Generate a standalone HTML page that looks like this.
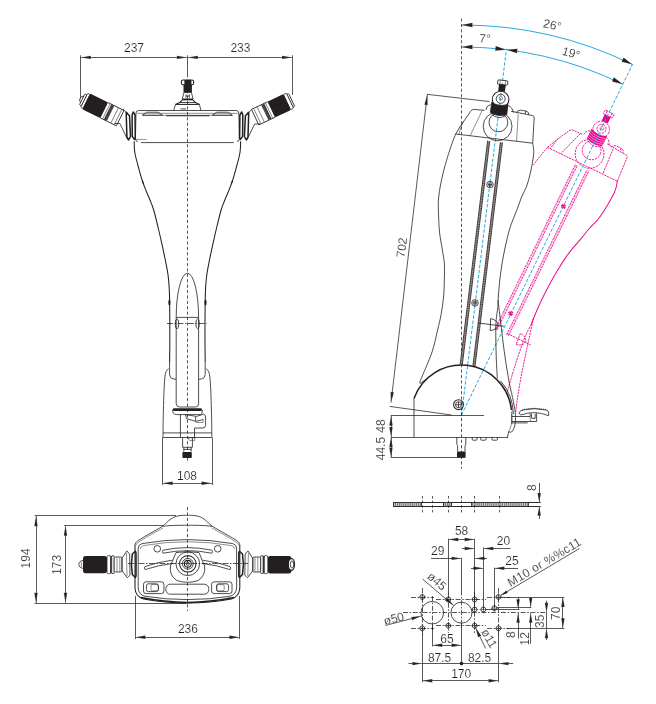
<!DOCTYPE html>
<html><head><meta charset="utf-8"><title>Dimensions</title>
<style>
html,body{margin:0;padding:0;background:#fff}
body{width:656px;height:704px;overflow:hidden}
svg{display:block;will-change:transform}
text{font-family:"Liberation Sans",sans-serif;font-size:12px;fill:#231f20;stroke:#fff;stroke-width:.16px;paint-order:fill stroke}
.d{stroke:#231f20;stroke-width:.75;fill:none}
.t{stroke:#231f20;stroke-width:.5;fill:none}
.o{stroke:#231f20;stroke-width:.8;fill:none}
.b{stroke:#231f20;stroke-width:1.05;fill:none}
.k{stroke:#231f20;stroke-width:1.5;fill:none}
.ar{fill:#231f20;stroke:#fff;stroke-width:.16px;paint-order:fill stroke}
.bl{stroke:#27a9e1;stroke-width:1;fill:none}
.w{fill:#fff}
.mg .o,.mg .t,.mg .b{stroke:#ec008c;stroke-dasharray:2.2 .8;stroke-width:.8}
</style></head><body>
<svg width="656" height="704" viewBox="0 0 656 704">
<rect width="656" height="704" fill="#fff"/>
<!-- front -->
<line class="d" x1="80.4" y1="57.5" x2="292.5" y2="57.5"/>
<line class="d" x1="80.5" y1="55.3" x2="80.5" y2="98.5"/>
<line class="d" x1="292.5" y1="55.3" x2="292.5" y2="95"/>
<line class="d" x1="187.5" y1="55.3" x2="187.5" y2="74"/>
<polygon class="ar" points="80.4,57.4 90.9,55.7 90.9,59.1"/>
<polygon class="ar" points="187.4,57.4 176.9,59.1 176.9,55.7"/>
<polygon class="ar" points="187.4,57.4 197.9,55.7 197.9,59.1"/>
<polygon class="ar" points="292.5,57.4 282,59.1 282,55.7"/>
<text x="134" y="52" text-anchor="middle">237</text>
<text x="240.4" y="52" text-anchor="middle">233</text>
<line class="d" x1="187.5" y1="74" x2="187.5" y2="463" stroke-dasharray='3.2 2.2'/>
<path class="o" d="M138.5 110.5H236.3Q238.6 110.5 238.8 113L239.4 139Q239.4 141.3 237 141.4M138.5 110.5Q136.2 110.5 136 113L135.4 139Q135.4 141.3 137.8 141.4"/>
<path class="t" d="M137 113.3H237.8"/>
<path class="o" d="M141 142.6H233.8"/>
<path class="t" d="M135.6 139.4H146.5"/>
<path class="o" d="M142.4 115.2L146.6 112.2H158L162.6 115.2M232.4 115.2L228.2 112.2H216.8L212.2 115.2"/>
<path class="b" d="M142.4 115.3H162.6M212.2 115.3H232.4"/>
<path class="t" d="M162.6 115.3H212.2"/>
<path class="b" d="M166.3 115.8H209.5"/>
<path class="b" d="M134.2 141.2C134.25 142.67 134.28 147.53 134.5 150C134.72 152.47 134.9 153.33 135.5 156C136.1 158.67 136.95 161.83 138.1 166C139.25 170.17 140.98 176.67 142.4 181C143.82 185.33 145.33 188.83 146.6 192C147.87 195.17 148.82 197 150 200C151.18 203 152.37 205.5 153.7 210C155.03 214.5 156.68 221.55 158 227C159.32 232.45 160.38 237.2 161.6 242.7C162.82 248.2 164.23 254.67 165.3 260C166.37 265.33 167.35 270.03 168 274.7C168.65 279.37 168.93 283.78 169.2 288C169.47 292.22 169.5 294.67 169.6 300C169.7 305.33 169.77 312.5 169.8 320C169.83 327.5 169.83 338 169.8 345C169.77 352 169.63 359.17 169.6 362"/>
<path class="b" d="M240.6 141.2C240.55 142.67 240.52 147.53 240.3 150C240.08 152.47 239.9 153.33 239.3 156C238.7 158.67 237.85 161.83 236.7 166C235.55 170.17 233.82 176.67 232.4 181C230.98 185.33 229.47 188.83 228.2 192C226.93 195.17 225.98 197 224.8 200C223.62 203 222.43 205.5 221.1 210C219.77 214.5 218.12 221.55 216.8 227C215.48 232.45 214.42 237.2 213.2 242.7C211.98 248.2 210.57 254.67 209.5 260C208.43 265.33 207.45 270.03 206.8 274.7C206.15 279.37 205.87 283.78 205.6 288C205.33 292.22 205.3 294.67 205.2 300C205.1 305.33 205.03 312.5 205 320C204.97 327.5 204.97 338 205 345C205.03 352 205.17 359.17 205.2 362"/>
<path class="b" d="M142.2 180.5l1.3 3.2" stroke-width='1.6'/>
<path class="b" d="M232.6 180.5l-1.3 3.2" stroke-width='1.6'/>
<ellipse cx="169.4" cy="302.5" rx="1.1" ry="3" fill="#231f20"/>
<ellipse cx="205.5" cy="302.5" rx="1.1" ry="3" fill="#231f20"/>
<path class="o" d="M169.6 362V374.6Q169.8 378.6 173.6 379L176.2 379.3M205.2 362V374.6Q205 378.6 201.2 379L198.6 379.3"/>
<path class="o" d="M176.2 317.4V404Q176.4 406.8 179.4 407H195.4Q198.4 406.8 198.6 404V317.4A11.2 44.2 0 0 0 176.2 317.4"/>
<path class="o" d="M176.2 317.4H198.6"/>
<line class="d" x1="167" y1="323.5" x2="206.6" y2="323.5" stroke-dasharray='6 1.5 1.5 1.5'/>
<ellipse cx="177" cy="323.8" rx="1.7" ry="5" class="o" fill="#fff"/><ellipse cx="197.6" cy="323.8" rx="1.7" ry="5" class="o" fill="#fff"/>
<path class="o" d="M168.8 368.8C168.43 369.12 167.23 369.43 166.6 370.7C165.97 371.97 165.43 373.02 165 376.4C164.57 379.78 164.27 385.4 164 391C163.73 396.6 163.55 404.33 163.4 410C163.25 415.67 163.17 420.42 163.1 425C163.03 429.58 163.02 435.42 163 437.5"/>
<path class="o" d="M206 368.8C206.37 369.12 207.57 369.43 208.2 370.7C208.83 371.97 209.37 373.02 209.8 376.4C210.23 379.78 210.53 385.4 210.8 391C211.07 396.6 211.25 404.33 211.4 410C211.55 415.67 211.63 420.42 211.7 425C211.77 429.58 211.78 435.42 211.8 437.5"/>
<path class="o" d="M163 432.9H211.8" stroke='#6b6869' stroke-width='1.1'/>
<path class="o" d="M163 437.5H211.8"/>
<rect x="172.8" y="408.2" width="29.2" height="2.9" rx="1.4" fill="#231f20"/>
<path class="o" d="M172.6 409.6Q172.2 414.4 176.5 414.6H200.6Q202.6 414 202.4 410"/>
<path class="o" d="M185.4 414.6L196.5 416.4L203.5 414.2Q205.6 414.8 205.6 417V425.6Q205.4 427.8 203 428H194.6"/>
<path class="o" d="M185.4 414.6L186.6 418.6L195.6 421.4L203.2 419.6M195.6 421.4V416.6"/>
<path class="t" d="M203.2 419.6V422.5H196"/>
<path class="o" d="M180.4 414.6V437.5M194.5 428V437.5"/>
<path class="o" d="M182.6 437.5V447.3H192.4V437.5M183.8 447.3V451.6M191.2 447.3V451.6M183.8 449.4H191.2"/>
<path class="t" d="M188.2 437.7h6.6v2.7h-5.4z"/>
<rect x="182.4" y="452" width="9.4" height="6" rx="1" fill="#231f20"/>
<line class="d" x1="162.5" y1="437.5" x2="162.5" y2="485"/>
<line class="d" x1="212.5" y1="437.5" x2="212.5" y2="485"/>
<line class="d" x1="162.2" y1="483.5" x2="212" y2="483.5"/>
<polygon class="ar" points="162.2,483.3 172.7,481.6 172.7,485"/>
<polygon class="ar" points="212,483.3 201.5,485 201.5,481.6"/>
<text x="187" y="480" text-anchor="middle">108</text>
<!-- conn -->
<g transform="translate(86.3 101.4) rotate(26.3)"><path class="o" d="M-4.3 -3.6Q-6.9 -3 -6.9 0Q-6.9 3 -4.3 3.6"/>
<rect x="-4.6" y="-6.2" width="2.4" height="12.4" rx="1" class="w o"/>
<rect x="-2.4" y="-7.9" width="2.6" height="15.8" rx="1" class="w o" stroke-width="1.1"/>
<rect x="0" y="-8.8" width="20" height="17.6" rx="1" fill="#231f20"/>
<path class="o" d="M20 -8.6H37.8M20 8.6H37.8"/>
<path class="t" d="M22.4 -8.4V8.4M31.6 -8.2V8.2M35.4 -8.2V8.2"/>
<path class="o" d="M37.8 -8.4V8.4"/>
<rect x="24.2" y="-8.5" width="2.9" height="17" fill="#4a4647"/>
<path class="o" d="M24.2 -8.5V8.5"/></g>
<path class="o" d="M123 109L125.4 111.6L127.6 112.6M114.6 123.5L119.9 123.5L127.6 139.6"/>
<path class="k" d="M126.2 112.4 L129.5 115.8 L130.5 136.5 L128.6 140 L126.9 136.8Z" stroke-width='2.3' stroke-linejoin='round' fill='#fff'/>
<path class="k" d="M133.2 112 L135 114.8 L135.3 138 L134.4 139.4 L132.3 136.4 L132.1 115Z" stroke-width='2.2' stroke-linejoin='round' fill='#fff'/>
<g transform="translate(289.3 101) scale(-1 1) rotate(25.3)"><rect x="-2.6" y="-7.2" width="2.2" height="14.4" rx="1" class="w o" stroke-width="1.1"/>
<rect x="-0.8" y="-8.3" width="3.4" height="16.6" rx="1" class="w o" stroke-width="1.1"/>
<rect x="2.4" y="-8.8" width="17.6" height="17.6" rx="1" fill="#231f20"/>
<path class="o" d="M20 -8.6H37.8M20 8.6H37.8"/>
<path class="t" d="M22.4 -8.4V8.4M31.6 -8.2V8.2M35.4 -8.2V8.2"/>
<path class="o" d="M37.8 -8.4V8.4"/>
<rect x="24.2" y="-8.5" width="2.9" height="17" fill="#4a4647"/>
<path class="o" d="M24.2 -8.5V8.5"/></g>
<path class="o" d="M251.5 109.5L249.2 112L247 113M260.2 124L254.6 124L247 139.8"/>
<path class="k" d="M248.7 112.4 L245.4 115.8 L244.4 136.5 L246.3 140 L248 136.8Z" stroke-width='2.3' stroke-linejoin='round' fill='#fff'/>
<path class="k" d="M241.7 112 L239.9 114.8 L239.6 138 L240.5 139.4 L242.6 136.4 L242.8 115Z" stroke-width='2.2' stroke-linejoin='round' fill='#fff'/>
<rect x="181.4" y="80" width="12.2" height="4.8" rx="1.6" class="w b"/>
<rect x="184.4" y="80" width="7" height="4.8" fill="#231f20"/>
<path class="o" d="M186.4 82.2h3" stroke='#fff' stroke-width='.8'/>
<rect x="183.5" y="84.7" width="8.4" height="7.7" fill="#231f20"/>
<path class="o" d="M184 92.4H191.4L193.1 99H182.2Z" fill='#fff' stroke-width='1'/>
<path class="o" d="M186 94.4V97.6M189.4 94.4V97.6M186 96H189.4"/>
<path class="k" d="M182.2 99.6H193.1" stroke-width='1.4'/>
<path class="b" d="M182.2 100.2L179.7 102.5L175.5 104.4M193.1 100.2L195.4 102.5L199.4 104.4" stroke-width='1.3'/>
<path class="o" d="M179.7 102.5H195.4"/>
<path class="b" d="M175.5 104.4H199.4"/>
<path class="o" d="M175.5 104.4L173.8 110.2M199.4 104.4L200.9 110.2"/>
<path class="o" d="M180.5 108.9H186"/>
<!-- top -->
<line class="d" x1="34.6" y1="515.5" x2="176" y2="515.5"/>
<line class="d" x1="34.6" y1="603.5" x2="186" y2="603.5"/>
<line class="d" x1="36.5" y1="515.7" x2="36.5" y2="603.2"/>
<polygon class="ar" points="36,515.7 37.7,526.2 34.3,526.2"/>
<polygon class="ar" points="36,603.2 34.3,592.7 37.7,592.7"/>
<line class="d" x1="64.2" y1="525.5" x2="163" y2="525.5"/>
<line class="d" x1="65.5" y1="525.3" x2="65.5" y2="603.2"/>
<polygon class="ar" points="65.5,525.3 67.2,535.8 63.8,535.8"/>
<polygon class="ar" points="65.5,603.2 63.8,592.7 67.2,592.7"/>
<text x="30.2" y="558.4" text-anchor="middle" transform="rotate(-90 30.2 558.4)">194</text>
<text x="60.8" y="564.8" text-anchor="middle" transform="rotate(-90 60.8 564.8)">173</text>
<line class="d" x1="135.5" y1="596" x2="135.5" y2="639"/>
<line class="d" x1="239.5" y1="596" x2="239.5" y2="639"/>
<line class="d" x1="135" y1="637.5" x2="239.8" y2="637.5"/>
<polygon class="ar" points="135,637.2 145.5,635.5 145.5,638.9"/>
<polygon class="ar" points="239.8,637.2 229.3,638.9 229.3,635.5"/>
<text x="187.9" y="632.6" text-anchor="middle">236</text>
<line class="d" x1="187.5" y1="507" x2="187.5" y2="611" stroke-dasharray='3.2 2.2'/>
<line class="d" x1="128" y1="563.5" x2="248" y2="563.5" stroke-dasharray='6 1.5 1.5 1.5'/>
<path class="o" d="M135 545C135.17 544.57 135.17 543.33 136 542.4C136.83 541.47 137.67 540.88 140 539.4C142.33 537.92 146.25 535.7 150 533.5C153.75 531.3 159.17 528.52 162.5 526.2C165.83 523.88 167.75 521.23 170 519.6C172.25 517.97 174 517.1 176 516.4C178 515.7 180.1 515.58 182 515.4C183.9 515.22 186.5 515.32 187.4 515.3C188.3 515.32 190.9 515.22 192.8 515.4C194.7 515.58 196.8 515.7 198.8 516.4C200.8 517.1 202.55 517.97 204.8 519.6C207.05 521.23 208.97 523.88 212.3 526.2C215.63 528.52 221.05 531.3 224.8 533.5C228.55 535.7 232.47 537.92 234.8 539.4C237.13 540.88 237.97 541.47 238.8 542.4C239.63 543.33 239.63 544.57 239.8 545"/>
<path class="o" d="M162.5 526.4C163.75 526.27 167.08 525.78 170 525.6C172.92 525.42 177.1 525.35 180 525.3C182.9 525.25 186.17 525.3 187.4 525.3C188.63 525.3 191.9 525.25 194.8 525.3C197.7 525.35 201.88 525.42 204.8 525.6C207.72 525.78 211.05 526.27 212.3 526.4"/>
<path class="b" d="M135 545V588Q135.4 596.4 143.5 599Q165 603 187.4 603Q210 603 231.3 599Q239.4 596.4 239.8 588V545"/>
<path class="k" d="M141 597.6Q165 602.4 187.4 602.4Q210 602.4 233.8 597.6" stroke-width='1.7'/>
<path class="t" d="M136.4 545C136.67 544.6 135.73 544.23 138 542.6C140.27 540.97 145.83 537.63 150 535.2C154.17 532.77 160.83 529.2 163 528"/>
<path class="t" d="M238.4 545C238.13 544.6 239.07 544.23 236.8 542.6C234.53 540.97 228.97 537.63 224.8 535.2C220.63 532.77 213.97 529.2 211.8 528"/>
<path class="o" d="M138.2 548Q138.6 544.6 142 543.6Q165 539.6 187.4 539.6Q210 539.6 232.8 543.6Q236.2 544.6 236.6 548V588Q236.2 594.6 230 596.2Q210 599.6 187.4 599.6Q165 599.6 144.8 596.2Q138.6 594.6 138.2 588Z"/>
<path class="t" d="M140.2 549Q140.6 546.4 143.4 545.6Q165 541.8 187.4 541.8Q210 541.8 231.4 545.6Q234.2 546.4 234.6 549"/>
<circle cx="157.3" cy="548.8" r="3.3" class="o"/><circle cx="217.7" cy="548.8" r="3.3" class="o"/>
<path class="o" d="M163 550.2Q187.4 545 211.8 550.2Q213.2 551.8 211.8 553.2Q187.4 548.2 163 553.2Q161.6 551.8 163 550.2Z"/>
<path class="o" d="M176 552.6Q187.4 550.6 199 552.6L204.6 566Q205.8 576 198 580.6Q187.4 584 177 580.6Q169.2 576 170.4 566Z"/>
<circle cx="187.8" cy="563.8" r="11.8" class="o"/>
<circle cx="187.8" cy="563.8" r="8.2" class="b"/>
<circle cx="187.8" cy="563.8" r="5.4" class="o"/>
<circle cx="187.8" cy="563.8" r="3.4" class="b"/>
<circle cx="187.8" cy="563.8" r="1.6" class="o"/>
<path class="o" d="M172.4 560.2Q156 562.4 145 566.6Q143.4 568 145 569.6Q158 565.2 173 563.4"/>
<path class="o" d="M202.8 560.2Q219 562.4 230 566.6Q231.6 568 230 569.6Q217 565.2 202.2 563.4"/>
<rect x="143.5" y="581.8" width="20.4" height="11.8" rx="2.5" class="o"/>
<rect x="146.4" y="583.8" width="12" height="7.8" rx="2" class="o"/>
<rect x="151" y="584.6" width="7.4" height="6.2" rx="1.5" class="t"/>
<rect x="211.6" y="581.8" width="20.4" height="11.8" rx="2.5" class="o"/>
<rect x="216.6" y="583.8" width="12" height="7.8" rx="2" class="o"/>
<rect x="216.8" y="584.6" width="7.4" height="6.2" rx="1.5" class="t"/>
<rect x="165.8" y="584.2" width="43" height="10" rx="4.6" class="o"/>
<path class="o" d="M84 560.3Q79 560.6 78.8 564.5 Q79 568 84 568.5" fill='#fff' stroke-width='1'/>
<path class="t" d="M81.4 561.8V567"/>
<rect x="83" y="556" width="24" height="17.2" rx="2.6" fill="#231f20"/>
<path class="o" d="M88.8 557.4Q87.6 564.5 88.8 571.8" stroke='#d9d9d9' stroke-width='1'/>
<rect x="107" y="555.6" width="3.6" height="18.1" rx="1.4" class="w o"/>
<rect x="110.5" y="555.8" width="1.2" height="17.7" fill="#231f20"/>
<rect x="111.7" y="555.6" width="2.5" height="18.1" rx="1.2" class="w o"/>
<rect x="114.2" y="557" width="7.8" height="15" rx="1.4" class="w o"/>
<path class="t" d="M117 557.4V571.6M119.8 557.4V571.6"/>
<path class="o" d="M122 558.4 L126.8 550.9 L129.6 554 L130 575.1 L127.4 577.8 L122 570.8Z" fill='#cfcdce' stroke-width='1.1' stroke-linejoin='round'/>
<path class="t" d="M126.4 553 L127 576"/>
<path class="k" d="M132.3 554 L135.4 551.2 L136 553 L136 576 L135.4 577.6 L132.3 574.4 L131.4 564.5Z" stroke-width='1.5' stroke-linejoin='round' fill='#fff'/>
<rect x="267.8" y="556" width="23.6" height="17.4" rx="2.6" fill="#231f20"/>
<path class="o" d="M284.8 557.2V572.2M287 557.6V571.6" stroke='#e6e6e6' stroke-width='.9'/>
<ellipse cx="291.4" cy="564.5" rx="3.1" ry="5.8" fill="#fff" stroke="#231f20" stroke-width="1.2"/>
<ellipse cx="292" cy="564.5" rx="1.7" ry="3.6" class="o"/>
<rect x="264.2" y="555.6" width="3.6" height="18.1" rx="1.4" class="w o"/>
<rect x="263.1" y="555.8" width="1.2" height="17.7" fill="#231f20"/>
<rect x="260.6" y="555.6" width="2.5" height="18.1" rx="1.2" class="w o"/>
<rect x="252.8" y="557" width="7.8" height="15" rx="1.4" class="w o"/>
<path class="t" d="M257.8 557.4V571.6M255 557.4V571.6"/>
<path class="o" d="M252.8 558.4 L248 550.9 L245.2 554 L244.8 575.1 L247.4 577.8 L252.8 570.8Z" fill='#cfcdce' stroke-width='1.1' stroke-linejoin='round'/>
<path class="t" d="M248.4 553 L247.8 576"/>
<path class="k" d="M242.5 554 L239.4 551.2 L238.8 553 L238.8 576 L239.4 577.6 L242.5 574.4 L243.4 564.5Z" stroke-width='1.5' stroke-linejoin='round' fill='#fff'/>
<!-- side -->
<g transform="rotate(19 461.5 415)" class="mg" color="#ec008c"><path class="o" d="M455.7 134L460.2 126.4L470.6 111.4Q471.6 109.6 473.6 109.4L484.6 110.3M511 111.2L532.6 115.6Q534.4 116 534.2 118L532.7 143.2"/>
<path class="o" d="M455.7 134L532.7 143.2"/>
<path class="t" d="M482.3 110.2L470.2 135.7M518.2 113.9L516.6 141.2"/>
<path class="t" d="M463 121.8L458.6 134.4"/>
<path class="o" d="M516.4 113.2Q516.8 110.2 520.4 110.2L526 111Q529 111.8 528.8 114.6M525.6 111L525.2 114"/>
<circle cx="497.6" cy="126.4" r="14.4" class="o" fill="none"/>
<circle cx="498.4" cy="122.4" r="9.4" class="o"/>
<path class="o" d="M490.6 104.6Q486.4 105.4 486 109.8M508.2 105.6Q512.4 107 513.4 112.6"/>
<circle cx="500.6" cy="99.6" r="8.3" class="b" fill="none"/>
<circle cx="500.7" cy="98.8" r="4.5" class="o"/>
<circle cx="500.9" cy="98.2" r="1.7" class="t"/>
<g transform="rotate(7 499.2 108.4)"><path d="M491 103.4Q499.2 107.2 507.4 103.4V113.6Q499.2 117.2 491 113.6Z" fill="currentColor" stroke="currentColor" stroke-width=".8"/><path d="M491 105.6Q499.2 109 507.4 105.6" stroke="#fff" stroke-width=".5" fill="none"/><path d="M491 107.8Q499.2 111.2 507.4 107.8" stroke="#fff" stroke-width=".5" fill="none"/><path d="M491 110Q499.2 113.4 507.4 110" stroke="#fff" stroke-width=".5" fill="none"/><path d="M491 112.2Q499.2 115.6 507.4 112.2" stroke="#fff" stroke-width=".5" fill="none"/><path d="M492.6 115.4Q499.2 119.6 505.8 115.4" class="o"/></g>
<g transform="rotate(7 502.2 86)"><rect x="498.8" y="84.6" width="6.8" height="6.8" fill="currentColor"/><rect x="497.2" y="80.3" width="10.2" height="4.3" rx="1" class="o" fill="none"/><path d="M499.6 80.3v4.3M505 80.3v4.3" class="t"/></g>
<line class="o" x1="465.27" y1="322.77" x2="487.63" y2="140.64"/>
<line class="o" x1="467.45" y1="323.04" x2="489.81" y2="140.91"/>
<line x1="466.36" y1="322.91" x2="488.72" y2="140.77" stroke="#f27ac0" stroke-width="1.7" stroke-dasharray=".6 1"/>
<line class="o" x1="477.97" y1="324.33" x2="500.34" y2="142.2"/>
<line class="o" x1="480.16" y1="324.6" x2="502.52" y2="142.47"/>
<line x1="479.06" y1="324.47" x2="501.43" y2="142.33" stroke="#f27ac0" stroke-width="1.7" stroke-dasharray=".6 1"/>
<path class="o" d="M488.2 182.8l3.6 3.6M488.2 186.4l3.6 -3.6M487.4 184.6h5.2M490 182v5.2" style='stroke-dasharray:none;stroke-width:1'/>
<path class="o" d="M473.2 301.1l3.6 3.6M473.2 304.7l3.6 -3.6M472.4 302.9h5.2M475 300.3v5.2" style='stroke-dasharray:none;stroke-width:1'/>
<path class="o" d="M478.5 323L504 326.3"/>
<path class="o" d="M490.6 318.6L490.2 330.6Q498.4 329.6 498 324.4Q497.6 320.2 490.6 318.6Z" fill='none'/>
<path class="o" d="M455.7 134C455.08 135.58 453.28 139.93 452 143.5C450.72 147.07 448.67 153.42 448 155.4"/>
<path class="o" d="M532.7 143.2C532.87 144.33 533.6 147.7 533.7 150C533.8 152.3 533.75 153.67 533.3 157C532.85 160.33 532.05 165.3 531 170C529.95 174.7 528.57 180.7 527 185.2C525.43 189.7 523.2 193.08 521.6 197C520 200.92 518.93 204.7 517.4 208.7C515.87 212.7 513.83 217.12 512.4 221C510.97 224.88 510.03 227.5 508.8 232C507.57 236.5 506.13 242.67 505 248C503.87 253.33 502.87 258.67 502 264C501.13 269.33 500.4 274.67 499.8 280C499.2 285.33 498.72 291.55 498.4 296C498.08 300.45 497.98 304.92 497.9 306.7" style='stroke-dasharray:none;stroke-width:.95'/>
<path class="o" d="M497.9 306.7C497.62 308.92 496.55 315.62 496.2 320C495.85 324.38 495.8 327 495.8 333C495.8 339 495.95 348.42 496.2 356C496.45 363.58 497.12 374.75 497.3 378.5"/>
<path class="o" d="M498 300C498.4 303.33 499.5 312.5 500.4 320C501.3 327.5 502.4 337.33 503.4 345C504.4 352.67 505.38 359.53 506.4 366C507.42 372.47 508.57 378.97 509.5 383.8C510.43 388.63 511.58 393.13 512 395"/></g>
<path class="bl" d="M461.5 25A390 390 0 0 1 632.46 64.47"/>
<path class="bl" d="M461.5 47A368 368 0 0 1 622.82 84.24"/>
<polygon class="ar" points="461.5,25 472.5,22.7 472.5,27.3"/>
<polygon class="ar" points="632.46,64.47 621.57,61.72 623.59,57.58"/>
<polygon class="ar" points="461.5,47 472.5,44.7 472.5,49.3"/>
<polygon class="ar" points="506.35,49.74 495.15,50.69 495.71,46.12"/>
<polygon class="ar" points="506.35,49.74 517.55,48.8 516.99,53.37"/>
<polygon class="ar" points="622.82,84.24 611.93,81.49 613.94,77.35"/>
<line class="bl" x1="461.5" y1="415" x2="506.47" y2="48.75" stroke-dasharray='3.4 1.7' stroke-width='.9'/>
<line class="bl" x1="461.5" y1="415" x2="632.68" y2="64.02" stroke-dasharray='3.4 1.7' stroke-width='.9'/>
<text x="551.5" y="29" text-anchor="middle" transform="rotate(12 551.5 29)">26°</text>
<text x="484.8" y="42.6" text-anchor="middle" transform="rotate(3 484.8 42.6)">7°</text>
<text x="570" y="57" text-anchor="middle" transform="rotate(16 570 57)">19°</text>
<line class="d" x1="461.5" y1="18.5" x2="461.5" y2="468.7" stroke-dasharray='3.2 2.2'/>
<line class="d" x1="391" y1="402.6" x2="427.3" y2="94.5"/>
<polygon class="ar" points="427.3,94.5 427.76,105.13 424.38,104.73"/>
<polygon class="ar" points="391,402.6 390.54,391.97 393.92,392.37"/>
<line class="d" x1="427" y1="94.3" x2="489.6" y2="101.6"/>
<line class="d" x1="389.6" y1="406.4" x2="451.5" y2="415"/>
<text x="405.8" y="248" text-anchor="middle" transform="rotate(-83.2 405.8 248)">702</text>
<g color="#231f20"><path class="o" d="M455.7 134L460.2 126.4L470.6 111.4Q471.6 109.6 473.6 109.4L484.6 110.3M511 111.2L532.6 115.6Q534.4 116 534.2 118L532.7 143.2"/>
<path class="o" d="M455.7 134L532.7 143.2"/>
<path class="t" d="M482.3 110.2L470.2 135.7M518.2 113.9L516.6 141.2"/>
<path class="t" d="M463 121.8L458.6 134.4"/>
<path class="o" d="M516.4 113.2Q516.8 110.2 520.4 110.2L526 111Q529 111.8 528.8 114.6M525.6 111L525.2 114"/>
<circle cx="497.6" cy="126.4" r="14.4" class="o" fill="#fff"/>
<circle cx="498.4" cy="122.4" r="9.4" class="o"/>
<path class="o" d="M490.6 104.6Q486.4 105.4 486 109.8M508.2 105.6Q512.4 107 513.4 112.6"/>
<circle cx="500.6" cy="99.6" r="8.3" class="b" fill="#fff"/>
<circle cx="500.7" cy="98.8" r="4.5" class="o"/>
<circle cx="500.9" cy="98.2" r="1.7" class="t"/>
<g transform="rotate(7 499.2 108.4)"><path d="M491 103.4Q499.2 107.2 507.4 103.4V113.6Q499.2 117.2 491 113.6Z" fill="currentColor" stroke="currentColor" stroke-width=".8"/><path d="M492.6 115.4Q499.2 119.6 505.8 115.4" class="o"/></g>
<g transform="rotate(7 502.2 86)"><rect x="498.8" y="84.6" width="6.8" height="6.8" fill="currentColor"/><rect x="497.2" y="80.3" width="10.2" height="4.3" rx="1" class="o" fill="#fff"/><path d="M499.6 80.3v4.3M505 80.3v4.3" class="t"/></g>
<line x1="461.29" y1="364.2" x2="488.72" y2="140.77" stroke="#b3b1b2" stroke-width="2"/>
<line x1="461.29" y1="364.2" x2="488.72" y2="140.77" stroke="#55524f" stroke-width="2" stroke-dasharray=".8 1"/>
<line class="o" x1="460.2" y1="364.06" x2="487.63" y2="140.64"/>
<line class="o" x1="462.38" y1="364.33" x2="489.81" y2="140.91"/>
<line x1="473.99" y1="365.76" x2="501.43" y2="142.33" stroke="#b3b1b2" stroke-width="2"/>
<line x1="473.99" y1="365.76" x2="501.43" y2="142.33" stroke="#55524f" stroke-width="2" stroke-dasharray=".8 1"/>
<line class="o" x1="472.9" y1="365.62" x2="500.34" y2="142.2"/>
<line class="o" x1="475.09" y1="365.89" x2="502.52" y2="142.47"/>
<circle cx="490" cy="184.6" r="3.3" class="o" fill="#fff"/>
<circle cx="490" cy="184.6" r="1.9" class="t"/>
<path class="o" d="M487.8 184.6h4.4M490 182.4v4.4"/>
<circle cx="475" cy="302.9" r="3.3" class="o" fill="#fff"/>
<circle cx="475" cy="302.9" r="1.9" class="t"/>
<path class="o" d="M472.8 302.9h4.4M475 300.7v4.4"/>
<path class="o" d="M478.5 323L504 326.3"/>
<path class="o" d="M490.6 318.6L490.2 330.6Q498.4 329.6 498 324.4Q497.6 320.2 490.6 318.6Z" fill='#fff'/>
<path class="o" d="M455.7 134C455.08 135.58 453.28 139.93 452 143.5C450.72 147.07 448.67 153.42 448 155.4"/>
<path class="o" d="M448 155.4C447.27 158 444.85 166.07 443.6 171C442.35 175.93 441.33 180.5 440.5 185C439.67 189.5 438.95 193.83 438.6 198C438.25 202.17 438.25 204.33 438.4 210C438.55 215.67 438.83 225.33 439.5 232C440.17 238.67 441.58 244.67 442.4 250C443.22 255.33 444.08 259 444.4 264C444.72 269 444.42 274.67 444.3 280C444.18 285.33 444.22 290.33 443.7 296C443.18 301.67 442.22 308.33 441.2 314C440.18 319.67 439.08 323.78 437.6 330C436.12 336.22 434.62 344.18 432.3 351.3C429.98 358.42 425.72 367.75 423.7 372.7C421.68 377.65 420.78 379.62 420.2 381"/>
<path class="o" d="M420.2 381Q418.8 384.6 421.4 382.6Q423.6 380.4 426.2 379.4"/>
<path class="o" d="M532.7 143.2C532.87 144.33 533.6 147.7 533.7 150C533.8 152.3 533.75 153.67 533.3 157C532.85 160.33 532.05 165.3 531 170C529.95 174.7 528.57 180.7 527 185.2C525.43 189.7 523.2 193.08 521.6 197C520 200.92 518.93 204.7 517.4 208.7C515.87 212.7 513.83 217.12 512.4 221C510.97 224.88 510.03 227.5 508.8 232C507.57 236.5 506.13 242.67 505 248C503.87 253.33 502.87 258.67 502 264C501.13 269.33 500.4 274.67 499.8 280C499.2 285.33 498.72 291.55 498.4 296C498.08 300.45 497.98 304.92 497.9 306.7"/>
<path class="o" d="M497.9 306.7C497.62 308.92 496.55 315.62 496.2 320C495.85 324.38 495.8 327 495.8 333C495.8 339 495.95 348.42 496.2 356C496.45 363.58 497.12 374.75 497.3 378.5"/>
<path class="o" d="M498 300C498.4 303.33 499.5 312.5 500.4 320C501.3 327.5 502.4 337.33 503.4 345C504.4 352.67 505.38 359.53 506.4 366C507.42 372.47 508.57 378.97 509.5 383.8C510.43 388.63 511.3 391.8 512 395C512.7 398.2 513.42 401.67 513.7 403"/></g>
<line class="d" x1="390.7" y1="415.5" x2="484" y2="415.5"/>
<path class="k" d="M414 398.4A50.3 50.3 0 0 1 511.4 410" stroke-width='1.3'/>
<path class="o" d="M499.4 381.6A50.8 50.8 0 0 1 512.2 414.6" stroke-width='2.4' stroke='#6d6a6b' stroke-dasharray='0.9 0.9'/>
<path class="o" d="M500.6 380.8A52 52 0 0 1 513.4 414"/>
<path class="o" d="M414 398.4V437"/>
<line class="d" x1="390.7" y1="437.5" x2="508" y2="437.5"/>
<path class="o" d="M513.7 403Q515.4 410 515.6 417.9Q515.4 423 514.7 426.1Q513.6 430.4 511.5 432Q509.8 432.6 508.7 431.6L507.4 437.5"/>
<path class="t" d="M511.6 412L511.4 424Q510.6 429 508.7 431.6"/>
<circle cx="458.5" cy="404.7" r="4.9" class="b" fill="#fff"/><circle cx="458.5" cy="404.7" r="3" class="o"/>
<path class="o" d="M455.5 404.7h6M458.5 401.7v6"/>
<path class="o" d="M456.8 437V444Q456.8 445 457.6 445.4V451.6M465.8 437V444Q465.8 445 465 445.4V451.6"/>
<rect x="457" y="451.6" width="8.6" height="5.8" rx="1" fill="#231f20"/>
<path class="o" d="M472.2 437v2.4q0 .8 .8 .8h3.2q.8 0 .8 -.8v-2.4"/>
<path class="o" d="M480.7 437v2.4q0 .8 .8 .8h3.7q.8 0 .8 -.8v-2.4"/>
<path class="o" d="M492 437v2.4q0 .8 .8 .8h3.8q.8 0 .8 -.8v-2.4"/>
<path class="o" d="M519.2 412.6Q519.4 410.8 523 410Q534.3 407.4 546 410Q548.6 410.8 548.6 412.2V415.7Q534.3 409.8 521 415Q519.2 414.6 519.2 412.6Z" stroke-width='.9' fill='#fff'/>
<path class="o" d="M522 409.9Q534.3 406.9 547 409.9" stroke-width='1.9' stroke-dasharray='1.3 .8'/>
<path class="o" d="M511.9 416.5H530.2V413.4M536.6 413.2V421.5H511.9M511.9 422.9H527.6M531.6 413.6V418.4H535.2V413.6"/>
<path class="t" d="M530.2 416.5V421.5"/>
<path class="o" d="M511.9 414.4V423.6" stroke-width='1.1'/>
<line class="d" x1="391.5" y1="415.8" x2="391.5" y2="457.4"/>
<line class="d" x1="390.7" y1="457.5" x2="465.4" y2="457.5"/>
<polygon class="ar" points="391,415.8 392.7,425.8 389.3,425.8"/>
<polygon class="ar" points="391,437 389.3,427 392.7,427"/>
<polygon class="ar" points="391,437 392.7,447 389.3,447"/>
<polygon class="ar" points="391,457.4 389.3,447.4 392.7,447.4"/>
<text x="384.9" y="426" text-anchor="middle" transform="rotate(-90 384.9 426)">48</text>
<text x="384.9" y="448.6" text-anchor="middle" transform="rotate(-90 384.9 448.6)">44.5</text>
<!-- plate -->
<line class="o" x1="393.3" y1="502.5" x2="540.6" y2="502.5"/>
<line class="o" x1="393.3" y1="506.5" x2="540.6" y2="506.5"/>
<line class="o" x1="393.5" y1="502.4" x2="393.5" y2="506.3"/>
<rect x="393.3" y="502.4" width="28" height="3.9" fill="#cfcdce"/>
<line x1="393.3" y1="504.35" x2="421.3" y2="504.35" stroke="#6b6869" stroke-width="3.9" stroke-dasharray=".8 1.1"/>
<line class="o" x1="393.5" y1="502.4" x2="393.5" y2="506.3"/>
<line class="o" x1="421.5" y1="502.4" x2="421.5" y2="506.3"/>
<rect x="443.3" y="502.4" width="8.6" height="3.9" fill="#cfcdce"/>
<line x1="443.3" y1="504.35" x2="451.9" y2="504.35" stroke="#6b6869" stroke-width="3.9" stroke-dasharray=".8 1.1"/>
<line class="o" x1="443.5" y1="502.4" x2="443.5" y2="506.3"/>
<line class="o" x1="451.5" y1="502.4" x2="451.5" y2="506.3"/>
<rect x="471.8" y="502.4" width="56.5" height="3.9" fill="#cfcdce"/>
<line x1="471.8" y1="504.35" x2="528.3" y2="504.35" stroke="#6b6869" stroke-width="3.9" stroke-dasharray=".8 1.1"/>
<line class="o" x1="471.5" y1="502.4" x2="471.5" y2="506.3"/>
<line class="o" x1="528.5" y1="502.4" x2="528.5" y2="506.3"/>
<line class="o" x1="393.3" y1="502.5" x2="540.6" y2="502.5"/>
<line class="o" x1="393.3" y1="506.5" x2="540.6" y2="506.5"/>
<line class="d" x1="422.5" y1="496" x2="422.5" y2="513" stroke-dasharray='2.6 2'/>
<line class="d" x1="432.5" y1="496" x2="432.5" y2="513" stroke-dasharray='2.6 2'/>
<line class="d" x1="448.5" y1="496" x2="448.5" y2="513" stroke-dasharray='2.6 2'/>
<line class="d" x1="461.5" y1="496" x2="461.5" y2="513" stroke-dasharray='2.6 2'/>
<line class="d" x1="474.5" y1="496" x2="474.5" y2="513" stroke-dasharray='2.6 2'/>
<line class="d" x1="499.5" y1="496" x2="499.5" y2="513" stroke-dasharray='2.6 2'/>
<line class="d" x1="539.5" y1="483" x2="539.5" y2="502.4"/>
<line class="d" x1="539.5" y1="506.3" x2="539.5" y2="519"/>
<polygon class="ar" points="539.2,502.4 537.5,492.9 540.9,492.9"/>
<polygon class="ar" points="539.2,506.3 540.9,515.8 537.5,515.8"/>
<text x="535.6" y="487.6" text-anchor="middle" transform="rotate(-90 535.6 487.6)">8</text>
<line class="d" x1="403" y1="612.5" x2="547" y2="612.5" stroke-dasharray='5 1.6 1.6 1.6'/>
<line class="d" x1="432.5" y1="596" x2="432.5" y2="630" stroke-dasharray='5 1.6 1.6 1.6'/>
<line class="d" x1="461.5" y1="590.5" x2="461.5" y2="630" stroke-dasharray='5 1.6 1.6 1.6'/>
<line class="d" x1="411" y1="597.5" x2="434" y2="597.5" stroke-dasharray='5 1.6 1.6 1.6'/>
<line class="d" x1="411" y1="628.5" x2="434" y2="628.5" stroke-dasharray='5 1.6 1.6 1.6'/>
<line class="d" x1="422.5" y1="588" x2="422.5" y2="637" stroke-dasharray='5 1.6 1.6 1.6'/>
<line class="d" x1="498.5" y1="588" x2="498.5" y2="637" stroke-dasharray='5 1.6 1.6 1.6'/>
<line class="d" x1="436" y1="599.5" x2="486" y2="599.5" stroke-dasharray='5 1.6 1.6 1.6'/>
<line class="d" x1="436" y1="625.5" x2="486" y2="625.5" stroke-dasharray='5 1.6 1.6 1.6'/>
<line class="d" x1="448.5" y1="593" x2="448.5" y2="633" stroke-dasharray='5 1.6 1.6 1.6'/>
<line class="d" x1="474.5" y1="592" x2="474.5" y2="633" stroke-dasharray='5 1.6 1.6 1.6'/>
<line class="d" x1="487" y1="597.5" x2="510" y2="597.5" stroke-dasharray='5 1.6 1.6 1.6'/>
<line class="d" x1="487" y1="628.5" x2="510" y2="628.5" stroke-dasharray='5 1.6 1.6 1.6'/>
<circle cx="432.3" cy="612.7" r="11.3" class="o"/>
<circle cx="461.5" cy="612.7" r="10.5" class="o"/>
<circle cx="422.3" cy="597" r="2.4" class="o" fill="#fff"/>
<path class="t" d="M418.5 597h7.6M422.3 593.2v7.6"/>
<circle cx="498.5" cy="597" r="2.4" class="o" fill="#fff"/>
<path class="t" d="M494.7 597h7.6M498.5 593.2v7.6"/>
<circle cx="422.3" cy="628.3" r="2.4" class="o" fill="#fff"/>
<path class="t" d="M418.5 628.3h7.6M422.3 624.5v7.6"/>
<circle cx="498.5" cy="628.3" r="2.4" class="o" fill="#fff"/>
<path class="t" d="M494.7 628.3h7.6M498.5 624.5v7.6"/>
<circle cx="448.3" cy="599.4" r="2.4" class="o" fill="#fff"/>
<path class="t" d="M444.5 599.4h7.6M448.3 595.6v7.6"/>
<circle cx="474.6" cy="599.4" r="2.4" class="o" fill="#fff"/>
<path class="t" d="M470.8 599.4h7.6M474.6 595.6v7.6"/>
<circle cx="448.3" cy="625.7" r="2.4" class="o" fill="#fff"/>
<path class="t" d="M444.5 625.7h7.6M448.3 621.9v7.6"/>
<circle cx="474.6" cy="625.7" r="2.4" class="o" fill="#fff"/>
<path class="t" d="M470.8 625.7h7.6M474.6 621.9v7.6"/>
<circle cx="474.6" cy="609.5" r="2.4" class="o" fill="#fff"/>
<path class="t" d="M470.8 609.5h7.6M474.6 605.7v7.6"/>
<circle cx="483.4" cy="609.5" r="2.4" class="o" fill="#fff"/>
<path class="t" d="M479.6 609.5h7.6M483.4 605.7v7.6"/>
<circle cx="494.4" cy="608.2" r="2.4" class="o" fill="#fff"/>
<path class="t" d="M490.6 608.2h7.6M494.4 604.4v7.6"/>
<line class="d" x1="448.5" y1="538.6" x2="448.5" y2="594"/>
<line class="d" x1="474.5" y1="538.6" x2="474.5" y2="610"/>
<line class="d" x1="448.3" y1="539.5" x2="474.6" y2="539.5"/>
<polygon class="ar" points="448.3,539.5 458.3,537.8 458.3,541.2"/>
<polygon class="ar" points="474.6,539.5 464.6,541.2 464.6,537.8"/>
<text x="461.6" y="535.4" text-anchor="middle">58</text>
<line class="d" x1="483.5" y1="547.4" x2="483.5" y2="610"/>
<line class="d" x1="462" y1="548.5" x2="474.6" y2="548.5"/>
<polygon class="ar" points="474.6,548.5 464.6,550.2 464.6,546.8"/>
<line class="d" x1="483.4" y1="548.5" x2="510.6" y2="548.5"/>
<polygon class="ar" points="483.4,548.5 493.4,546.8 493.4,550.2"/>
<text x="503.4" y="544.5" text-anchor="middle">20</text>
<line class="d" x1="461.5" y1="557.6" x2="461.5" y2="591"/>
<line class="d" x1="431" y1="558.5" x2="461.5" y2="558.5"/>
<polygon class="ar" points="461.5,558.4 451.5,560.1 451.5,556.7"/>
<line class="d" x1="474.6" y1="558.5" x2="487" y2="558.5"/>
<polygon class="ar" points="474.6,558.4 484.6,556.7 484.6,560.1"/>
<text x="437.8" y="555.2" text-anchor="middle">29</text>
<line class="d" x1="494.5" y1="567.6" x2="494.5" y2="608"/>
<line class="d" x1="471" y1="568.5" x2="483.4" y2="568.5"/>
<polygon class="ar" points="483.4,568.3 473.4,570 473.4,566.6"/>
<line class="d" x1="494.4" y1="568.5" x2="518" y2="568.5"/>
<polygon class="ar" points="494.4,568.3 504.4,566.6 504.4,570"/>
<text x="512" y="565.2" text-anchor="middle">25</text>
<line class="d" x1="501" y1="597.5" x2="564.4" y2="597.5"/>
<line class="d" x1="506.5" y1="628.5" x2="564.4" y2="628.5"/>
<line class="d" x1="497" y1="607.5" x2="531.4" y2="607.5"/>
<line class="d" x1="486" y1="609.5" x2="519.4" y2="609.5"/>
<line class="d" x1="518.5" y1="597" x2="518.5" y2="609.2"/>
<polygon class="ar" points="518.1,609.2 516.4,599.2 519.8,599.2"/>
<line class="d" x1="518.5" y1="612.7" x2="518.5" y2="638.4"/>
<polygon class="ar" points="518.1,612.7 519.8,622.7 516.4,622.7"/>
<text x="514.6" y="634.6" text-anchor="middle" transform="rotate(-90 514.6 634.6)">8</text>
<line class="d" x1="530.5" y1="597" x2="530.5" y2="607.6"/>
<polygon class="ar" points="530.7,607.6 529,597.6 532.4,597.6"/>
<line class="d" x1="530.5" y1="612.7" x2="530.5" y2="643.8"/>
<polygon class="ar" points="530.7,612.7 532.4,622.7 529,622.7"/>
<text x="529" y="638.8" text-anchor="middle" transform="rotate(-90 529 638.8)">12</text>
<line class="d" x1="546.5" y1="600.6" x2="546.5" y2="640"/>
<polygon class="ar" points="546.5,612.7 544.8,602.7 548.2,602.7"/>
<polygon class="ar" points="546.5,628.3 548.2,638.3 544.8,638.3"/>
<text x="544.2" y="621.2" text-anchor="middle" transform="rotate(-90 544.2 621.2)">35</text>
<line class="d" x1="562.5" y1="597" x2="562.5" y2="628.3"/>
<polygon class="ar" points="562.9,597 564.6,607 561.2,607"/>
<polygon class="ar" points="562.9,628.3 561.2,618.3 564.6,618.3"/>
<text x="560.2" y="613.2" text-anchor="middle" transform="rotate(-90 560.2 613.2)">70</text>
<line class="d" x1="500.4" y1="595.6" x2="579.4" y2="548.5"/>
<polygon class="ar" points="500.2,595.8 506.3,590.42 507.84,592.99"/>
<text x="510.6" y="587" text-anchor="start" transform="rotate(-30.8 510.6 587)" letter-spacing='.25'>M10 or %%c11</text>
<line class="d" x1="474.6" y1="625.6" x2="485.6" y2="648.4"/>
<polygon class="ar" points="475.4,627.4 481.28,635.67 478.21,637.15"/>
<text x="480.8" y="631.8" text-anchor="start" transform="rotate(60 480.8 631.8)">ø11</text>
<line class="d" x1="422.5" y1="579" x2="453.8" y2="605.6"/>
<polygon class="ar" points="453.8,605.6 445.08,600.42 447.28,597.83"/>
<text x="426.4" y="577.6" text-anchor="start" transform="rotate(40.4 426.4 577.6)">ø45</text>
<line class="d" x1="385.6" y1="625.4" x2="421.4" y2="616"/>
<polygon class="ar" points="421.4,616 412.16,620.18 411.3,616.9"/>
<text x="384.8" y="625.2" text-anchor="start" transform="rotate(-14.5 384.8 625.2)">ø50</text>
<line class="d" x1="432.5" y1="624" x2="432.5" y2="646.4"/>
<line class="d" x1="461.5" y1="623.5" x2="461.5" y2="664"/>
<line class="d" x1="432.3" y1="645.5" x2="461.5" y2="645.5"/>
<polygon class="ar" points="432.3,645.2 442.3,643.5 442.3,646.9"/>
<polygon class="ar" points="461.5,645.2 451.5,646.9 451.5,643.5"/>
<text x="446.9" y="642.7" text-anchor="middle">65</text>
<line class="d" x1="422.5" y1="632" x2="422.5" y2="682.4"/>
<line class="d" x1="498.5" y1="632" x2="498.5" y2="682.4"/>
<line class="d" x1="408.5" y1="663.5" x2="513.2" y2="663.5"/>
<polygon class="ar" points="422.3,663.6 412.3,665.3 412.3,661.9"/>
<polygon class="ar" points="498.5,663.6 508.5,661.9 508.5,665.3"/>
<circle cx="461.5" cy="663.6" r="1.8" fill="#231f20"/>
<text x="439.6" y="661.6" text-anchor="middle">87.5</text>
<text x="479.6" y="661.6" text-anchor="middle">82.5</text>
<line class="d" x1="422.3" y1="680.5" x2="498.5" y2="680.5"/>
<polygon class="ar" points="422.3,680.7 432.3,679 432.3,682.4"/>
<polygon class="ar" points="498.5,680.7 488.5,682.4 488.5,679"/>
<text x="461.2" y="677.9" text-anchor="middle">170</text>
</svg>
</body></html>
